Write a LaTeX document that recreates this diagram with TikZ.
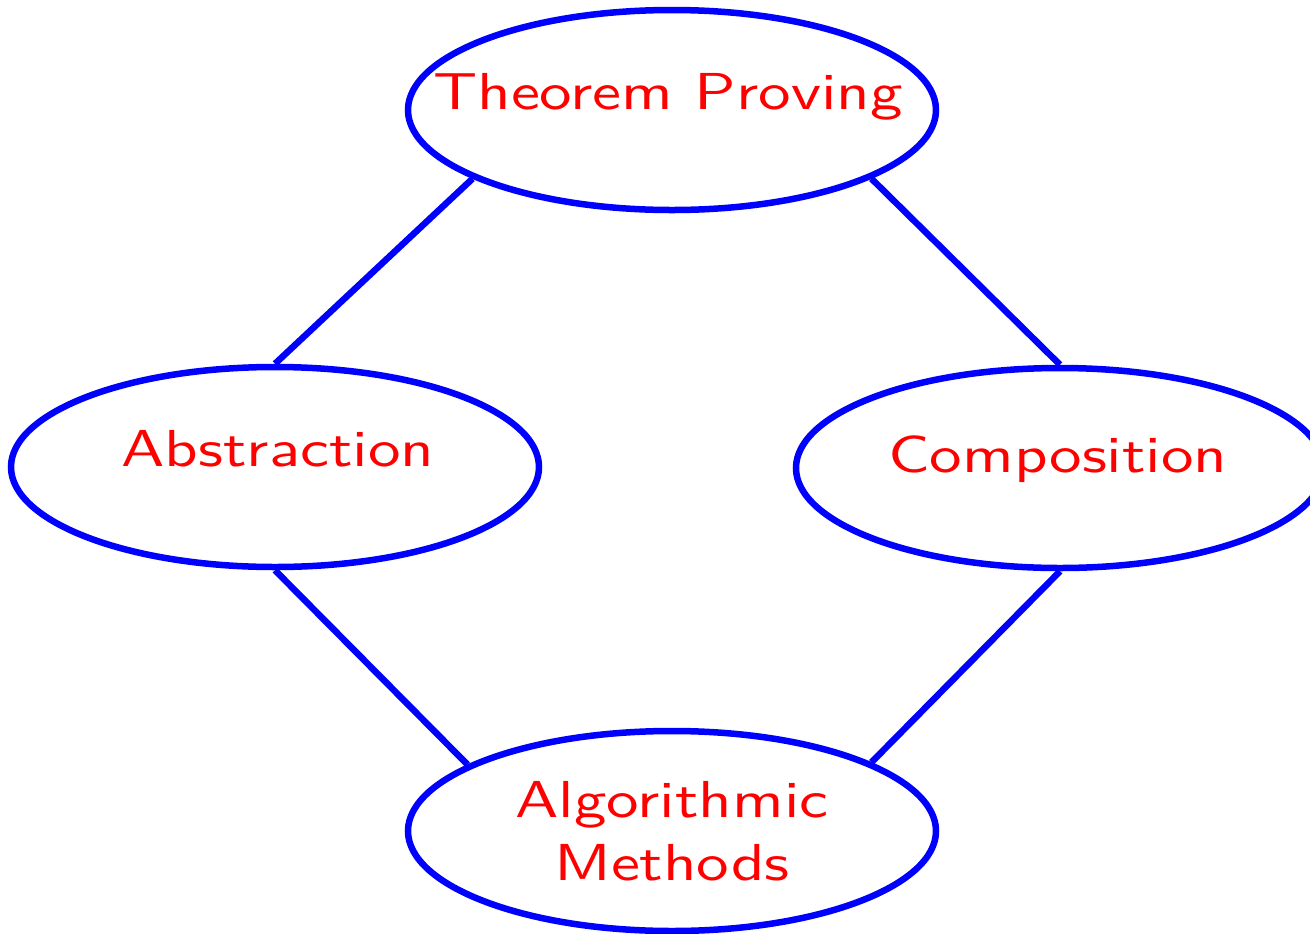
\documentclass[tikz,border=0pt]{standalone}
\usetikzlibrary{shapes.geometric}
\begin{document}
\begin{tikzpicture}[x=0.2pt,y=-0.2pt,
  oval/.style={ellipse, draw=blue, line width=1.3pt, minimum width=105.6pt, minimum height=40pt, inner sep=0pt},
  lbl/.style={text=red, font=\sffamily\fontsize{10.4}{12.6}\selectfont, inner sep=0pt, anchor=base, align=center},
  link/.style={draw=blue, line width=1.3pt}]
\useasboundingbox (0,0) rectangle (1310,934);
\clip (0,0) rectangle (1310,934);
\node[oval] (tp) at (672,110) {};
\node[oval] (ab) at (275,467) {};
\node[oval] (co) at (1060,468) {};
\node[oval] (am) at (672,831) {};
\node[lbl] (tpt) at (668,109) {\scalebox{1.25}[1]{Theorem Proving}};
\node[lbl] (abt) at (278,466) {\scalebox{1.25}[1]{Abstraction}};
\node[lbl] (cot) at (1058,472) {\scalebox{1.25}[1]{Composition}};
\node[lbl] (amt) at (672,880) {\scalebox{1.25}[1]{Algorithmic}\\\scalebox{1.25}[1]{Methods}};
\draw[link] (tp.199) -- (ab.north);
\draw[link] (tp.-19) -- (co.north);
\draw[link] (ab.south) -- (am.162);
\draw[link] (co.south) -- (am.19);
\end{tikzpicture}
\end{document}
